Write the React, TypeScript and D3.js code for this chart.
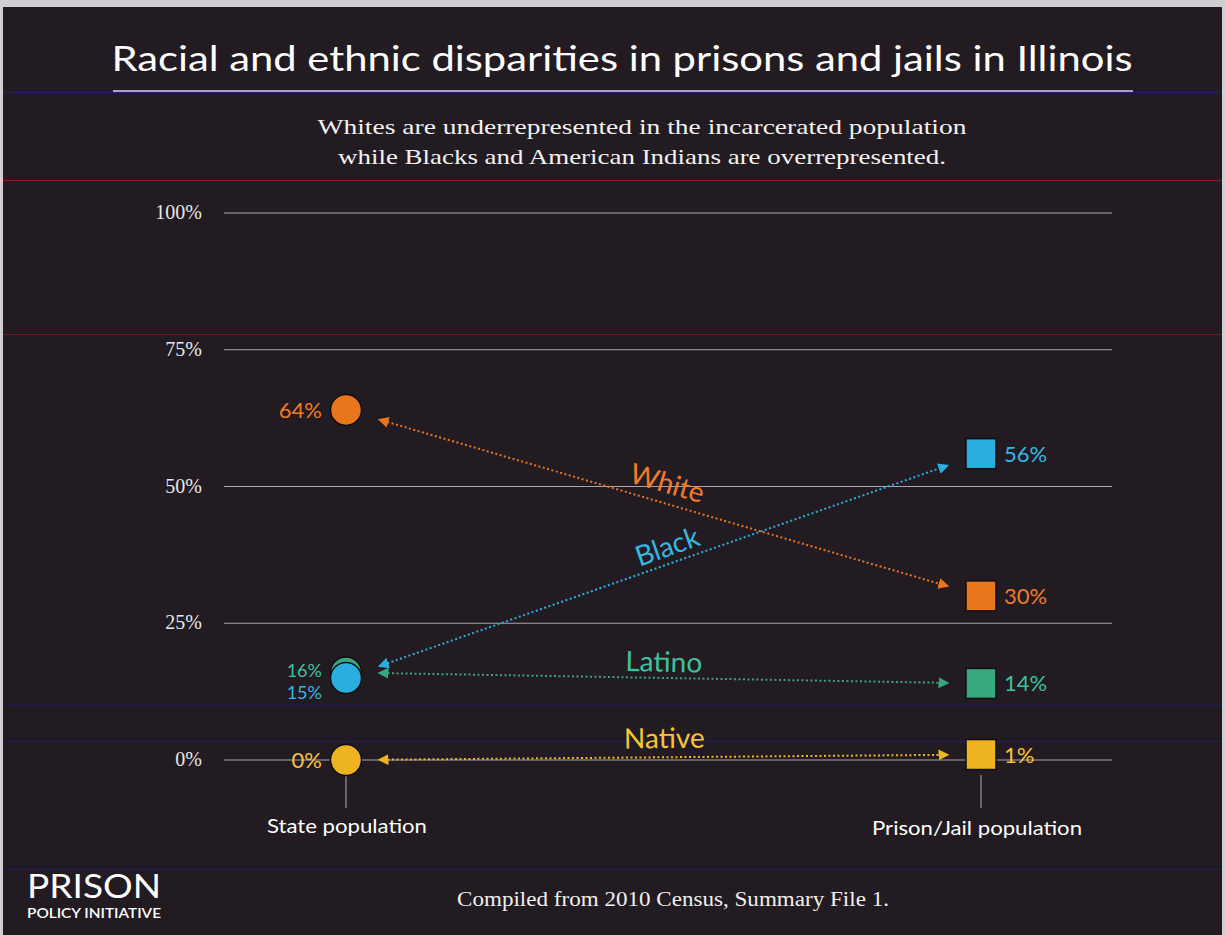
import React from "react";
import * as d3 from "d3";

const groups = ["White", "Black", "Latino", "Native"];
const statePct = [64, 15, 16, 0];
const prisonPct = [30, 56, 14, 1];
const colors = ["#e8761c", "#2aaee0", "#37a77e", "#eeb321"];
const textColors = ["#f27c24", "#33b8e4", "#3cc29e", "#f7c433"];
const yTicks = [0, 25, 50, 75, 100];
const columns = ["State population", "Prison/Jail population"];
const title = "Racial and ethnic disparities in prisons and jails in Illinois";
const subtitle = [
  "Whites are underrepresented in the incarcerated population",
  "while Blacks and American Indians are overrepresented.",
];
const source = "Compiled from 2010 Census, Summary File 1.";

const W = 1225;
const H = 935;
const sans = "'Lato', 'Noto Sans', sans-serif";
const serif = "'Liberation Serif', 'DejaVu Serif', serif";

export default function App() {
  const y = d3.scaleLinear().domain([0, 100]).range([760, 213]);
  const x = d3.scalePoint<string>().domain(columns).range([346, 981]);
  const xL = x(columns[0])!;
  const xR = x(columns[1])!;
  const shrink = 37;
  const drawOrder = [2, 1, 0, 3];

  const arrows = groups.map((g, i) => {
    const y1 = y(statePct[i]);
    const y2 = y(prisonPct[i]);
    const dx = xR - xL;
    const dy = y2 - y1;
    const slope = dy / dx;
    const ax = xL + shrink;
    const ay = y1 + slope * shrink;
    const bx = xR - shrink;
    const by = y2 - slope * shrink;
    return { g, i, ax, ay, bx, by, angle: (Math.atan2(dy, dx) * 180) / Math.PI };
  });

  const labelOffsets = [20, 17, 16, 19];
  const labelShift = [-2, 10, 0, 1];
  const colLabelLen = [160, 210];

  return (
    <svg
      width={W}
      height={H}
      style={{ position: "absolute", left: 0, top: 0, display: "block" }}
    >
      <defs>
        {groups.map((g, i) => (
          <marker
            key={g}
            id={`arr-${i}`}
            viewBox="0 0 10 10"
            refX="5"
            refY="5"
            markerWidth="5.5"
            markerHeight="5.5"
            orient="auto-start-reverse"
          >
            <path d="M0,0 L10,5 L0,10 z" fill={colors[i]} />
          </marker>
        ))}
      </defs>
      <rect x={0} y={0} width={W} height={H} fill="#cfcfd2" />
      <rect x={3} y={7} width={W - 6} height={H - 7} fill="#221b21" />
      {/* scan artifact lines */}
      <line x1={3} x2={W - 3} y1={180.5} y2={180.5} stroke="#8a1f2a" strokeWidth={1.2} />
      <line x1={3} x2={W - 3} y1={334.5} y2={334.5} stroke="#6a1a26" strokeWidth={1} />
      <line x1={3} x2={W - 3} y1={92.5} y2={92.5} stroke="#2020a0" strokeOpacity={0.6} strokeWidth={1} />
      <line x1={3} x2={W - 3} y1={705.5} y2={705.5} stroke="#2020a0" strokeOpacity={0.5} strokeWidth={1} />
      <line x1={3} x2={W - 3} y1={741.5} y2={741.5} stroke="#2020a0" strokeOpacity={0.5} strokeWidth={1} />
      <line x1={3} x2={W - 3} y1={869.5} y2={869.5} stroke="#2020a0" strokeOpacity={0.5} strokeWidth={1} />

      {/* title */}
      <text
        x={622}
        y={71}
        textAnchor="middle"
        fill="#ffffff"
        fontFamily={sans}
        fontSize={35}
        textLength={1021}
        lengthAdjust="spacingAndGlyphs"
      >
        {title}
      </text>
      <line x1={113} x2={1133} y1={91} y2={91} stroke="#d8d8d8" strokeWidth={1.5} />
      {subtitle.map((s, k) => (
        <text
          key={k}
          x={642}
          y={134 + k * 30}
          textAnchor="middle"
          fill="#f2f2f2"
          fontFamily={serif}
          fontSize={22}
          textLength={k === 0 ? 649 : 608}
          lengthAdjust="spacingAndGlyphs"
        >
          {s}
        </text>
      ))}

      {/* grid */}
      {yTicks.map((t) => (
        <g key={t}>
          <line
            x1={224}
            x2={1112}
            y1={y(t)}
            y2={y(t)}
            stroke="#a9a6ad"
            strokeWidth={1}
          />
          <text
            x={202}
            y={y(t) + 6}
            textAnchor="end"
            fill="#e8e8e8"
            fontFamily={serif}
            fontSize={20}
          >
            {t}%
          </text>
        </g>
      ))}

      {/* column ticks and labels */}
      {columns.map((c, k) => (
        <g key={c}>
          <line
            x1={x(c)!}
            x2={x(c)!}
            y1={775}
            y2={808}
            stroke="#9a979d"
            strokeWidth={1.2}
          />
          <text
            x={x(c)! + (k === 1 ? -4 : 1)}
            y={833 + k * 2}
            textAnchor="middle"
            fill="#ffffff"
            fontFamily={sans}
            fontSize={20}
            textLength={colLabelLen[k]}
            lengthAdjust="spacingAndGlyphs"
          >
            {c}
          </text>
        </g>
      ))}

      {/* arrows */}
      {arrows.map((a) => (
        <line
          key={a.g}
          x1={a.ax}
          y1={a.ay}
          x2={a.bx}
          y2={a.by}
          stroke={colors[a.i]}
          strokeWidth={2}
          strokeDasharray="2,2.5"
          markerStart={`url(#arr-${a.i})`}
          markerEnd={`url(#arr-${a.i})`}
        />
      ))}

      {/* group labels along arrows */}
      {arrows.map((a) => {
        const rad = (a.angle * Math.PI) / 180;
        const s = labelShift[a.i];
        const mx = (a.ax + a.bx) / 2 + Math.cos(rad) * s;
        const my = (a.ay + a.by) / 2 + Math.sin(rad) * s;
        const off = labelOffsets[a.i];
        const lx = mx + Math.sin(rad) * off;
        const ly = my - Math.cos(rad) * off;
        return (
          <text
            key={a.g}
            transform={`translate(${lx},${ly}) rotate(${a.angle})`}
            textAnchor="middle"
            dy="0.35em"
            fill={textColors[a.i]}
            fontFamily={sans}
            fontSize={28}
          >
            {a.g}
          </text>
        );
      })}

      {/* state markers */}
      {drawOrder.map((i) => (
        <circle
          key={groups[i]}
          cx={xL}
          cy={y(statePct[i])}
          r={15.5}
          fill={colors[i]}
          stroke="#120e12"
          strokeWidth={1.5}
        />
      ))}
      {/* prison markers */}
      {groups.map((g, i) => (
        <rect
          key={g}
          x={xR - 15}
          y={y(prisonPct[i]) - 15}
          width={30}
          height={30}
          fill={colors[i]}
          stroke="#120e12"
          strokeWidth={1.5}
        />
      ))}

      {/* state value labels */}
      {groups.map((g, i) => {
        let ly = y(statePct[i]) + 8;
        let fs = 22;
        if (g === "Latino") {
          ly = 677;
          fs = 18;
        }
        if (g === "Black") {
          ly = 699;
          fs = 18;
        }
        return (
          <text
            key={g}
            x={322}
            y={ly}
            textAnchor="end"
            fill={textColors[i]}
            fontFamily={sans}
            fontSize={fs}
          >
            {statePct[i]}%
          </text>
        );
      })}
      {/* prison value labels */}
      {groups.map((g, i) => (
        <text
          key={g}
          x={1004}
          y={y(prisonPct[i]) + 8}
          textAnchor="start"
          fill={textColors[i]}
          fontFamily={sans}
          fontSize={22}
        >
          {prisonPct[i]}%
        </text>
      ))}

      {/* footer */}
      <text
        x={27}
        y={898}
        fill="#ffffff"
        fontFamily={sans}
        fontSize={33}
        textLength={134}
        lengthAdjust="spacingAndGlyphs"
      >
        PRISON
      </text>
      <text
        x={27}
        y={918}
        fill="#ffffff"
        fontFamily={sans}
        fontSize={13}
        fontWeight={600}
        textLength={134}
        lengthAdjust="spacingAndGlyphs"
      >
        POLICY INITIATIVE
      </text>
      <text
        x={673}
        y={906}
        textAnchor="middle"
        fill="#f0f0f0"
        fontFamily={serif}
        fontSize={20}
        textLength={432}
        lengthAdjust="spacingAndGlyphs"
      >
        {source}
      </text>
    </svg>
  );
}
